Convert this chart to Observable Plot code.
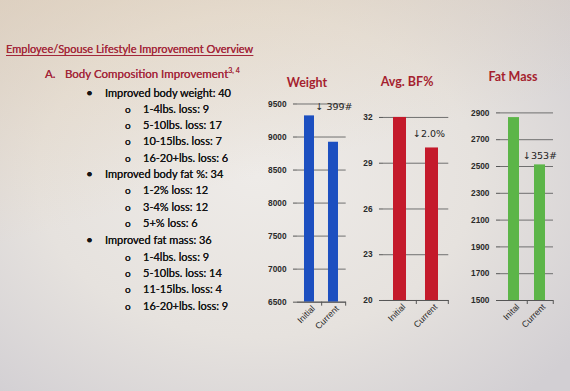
<!DOCTYPE html>
<html>
<head>
<meta charset="utf-8">
<script src="https://cdn.jsdelivr.net/npm/d3@7"></script>
<script src="https://cdn.jsdelivr.net/npm/@observablehq/plot@0.6"></script>
<style>
  html, body { margin: 0; padding: 0; }
  body {
    width: 570px; height: 391px; overflow: hidden; position: relative;
    font-family: Lato, "Open Sans", sans-serif;
    background:
      linear-gradient(165deg, rgba(226,205,175,0.55) 0%, rgba(226,205,175,0.0) 45%),
      radial-gradient(ellipse 70% 75% at 45% 45%, #eeebe8 0%, #e6e2de 55%, #d2cfd3 100%);
  }
  .t { position: absolute; white-space: nowrap; line-height: 14px; color: #151515; text-shadow: 0 0 0.3px #151515; }
  .hdr { color: #a3283a; text-shadow: 0 0 0.3px #a3283a; }
  .ctitle { position: absolute; font-weight: bold; color: #a51f2f; font-size: 12.5px; transform: translateX(-50%); line-height: 14px; white-space: nowrap; }
  .chart { position: absolute; top: 95px; }
</style>
</head>
<body>
<div id="page"></div>
<script>
// ---- data ----
const pageTitle = "Employee/Spouse Lifestyle Improvement Overview";
const sectionTitle = "Body Composition Improvement";
const listItems = [
  {level: 1, text: "Improved body weight: 40"},
  {level: 2, text: "1-4lbs. loss: 9"},
  {level: 2, text: "5-10lbs. loss: 17"},
  {level: 2, text: "10-15lbs. loss: 7"},
  {level: 2, text: "16-20+lbs. loss: 6"},
  {level: 1, text: "Improved body fat %: 34"},
  {level: 2, text: "1-2% loss: 12"},
  {level: 2, text: "3-4% loss: 12"},
  {level: 2, text: "5+% loss: 6"},
  {level: 1, text: "Improved fat mass: 36"},
  {level: 2, text: "1-4lbs. loss: 9"},
  {level: 2, text: "5-10lbs. loss: 14"},
  {level: 2, text: "11-15lbs. loss: 4"},
  {level: 2, text: "16-20+lbs. loss: 9"}
];

const weightCategories = ["Initial", "Current"];
const weightValues = [9320, 8921];
const weightTicks = [6500, 7000, 7500, 8000, 8500, 9000, 9500];
const weightNote = "↓ 399#";

const bfCategories = ["Initial", "Current"];
const bfValues = [32.0, 30.0];
const bfTicks = [20, 23, 26, 29, 32];
const bfNote = "↓2.0%";

const fatCategories = ["Inital", "Current"];
const fatValues = [2865, 2512];
const fatTicks = [1500, 1700, 1900, 2100, 2300, 2500, 2700, 2900];
const fatNote = "↓353#";

// ---- text part ----
const page = document.getElementById("page");
function addText(html, x, cy, cls, size) {
  const d = document.createElement("div");
  d.className = "t " + (cls || "");
  d.style.left = x + "px";
  d.style.top = (cy - 7) + "px";
  d.style.fontSize = size + "px";
  d.innerHTML = html;
  page.appendChild(d);
  return d;
}
addText(`<span style="text-decoration:underline;text-underline-offset:2px">${pageTitle}</span>`, 6, 49, "hdr", 11);
addText("A.", 45, 74, "hdr", 11.5);
addText(`${sectionTitle}<sup style="font-size:7px;vertical-align:5px;line-height:0">3, 4</sup>`, 65, 74, "hdr", 11.5);
const ys = [93, 109, 125, 141, 157.5, 174, 190, 206.5, 223, 240, 256.5, 272.5, 289, 305.5];
listItems.forEach((it, i) => {
  if (it.level === 1) {
    addText("•", 86, ys[i], "", 12);
    addText(it.text, 105, ys[i], "", 11);
  } else {
    addText("o", 125, ys[i], "", 10);
    addText(it.text, 143, ys[i], "", 11);
  }
});

// ---- charts ----
function chart({cats, values, ticks, domain, color, note, noteIndex, noteDx, noteDy, noteAnchor,
                left, width, marginTop, marginBottom, title, titleX, titleY}) {
  const data = cats.map((c, i) => ({cat: c, value: values[i]}));
  const noteData = [{cat: cats[noteIndex], value: values[noteIndex], text: note}];
  const plotW = width - 50;
  const step = plotW / cats.length;
  const p = Plot.plot({
    width, height: 255,
    marginLeft: 40, marginRight: 10, marginTop, marginBottom,
    style: {background: "transparent", fontFamily: "Liberation Sans, Arial, sans-serif", color: "#2a2a2a"},
    x: {domain: cats, paddingInner: 0.58, paddingOuter: 0.29, align: 0.5},
    y: {domain, ticks},
    marks: [
      Plot.gridY(ticks, {stroke: "#6f6f6f", strokeOpacity: 1, strokeWidth: 1}),
      Plot.barY(data, {x: "cat", y1: () => domain[0], y2: "value", fill: color}),
      Plot.axisY(ticks, {tickSize: 4, tickPadding: 7, fontSize: 8.3, fontWeight: "bold", stroke: "#555",
        line: true, label: null, tickFormat: d => String(d)}),
      Plot.ruleY([domain[0]], {stroke: "#555"}),
      Plot.axisX({tickSize: 4, tickFormat: () => "", dx: step / 2, stroke: "#555", label: null}),
      Plot.axisX({tickSize: 0, tickRotate: -45, tickPadding: 5, dx: 4, fontSize: 8.8, label: null}),
      Plot.text(noteData, {x: "cat", y: "value", text: "text", dx: noteDx, dy: noteDy, textAnchor: noteAnchor,
        fontSize: 9.5, fill: "#222", fontFamily: "DejaVu Sans, sans-serif"})
    ]
  });
  const wrap = document.createElement("div");
  wrap.className = "chart";
  wrap.style.left = left + "px";
  wrap.appendChild(p);
  page.appendChild(wrap);
  const t = document.createElement("div");
  t.className = "ctitle";
  t.style.left = titleX + "px";
  t.style.top = (titleY - 7) + "px";
  t.textContent = title;
  page.appendChild(t);
}

chart({cats: weightCategories, values: weightValues, ticks: weightTicks, domain: [6500, 9500],
  color: "#1c4fc0", note: weightNote, noteIndex: 0, noteDx: 6, noteDy: -9, noteAnchor: "start",
  left: 257.3, width: 98.7, marginTop: 8.5, marginBottom: 48.3, title: "Weight", titleX: 307, titleY: 83});

chart({cats: bfCategories, values: bfValues, ticks: bfTicks, domain: [20, 33],
  color: "#c41a2b", note: bfNote, noteIndex: 1, noteDx: -3, noteDy: -14, noteAnchor: "middle",
  left: 342.7, width: 115.3, marginTop: 6.7, marginBottom: 50, title: "Avg. BF%", titleX: 407, titleY: 82});

chart({cats: fatCategories, values: fatValues, ticks: fatTicks, domain: [1500, 3000],
  color: "#5cb548", note: fatNote, noteIndex: 1, noteDx: 0, noteDy: -9, noteAnchor: "middle",
  left: 460, width: 103, marginTop: 4, marginBottom: 50, title: "Fat Mass", titleX: 513, titleY: 77});
</script>
</body>
</html>
